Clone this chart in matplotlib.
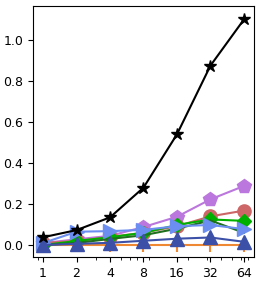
import matplotlib

matplotlib.use("Agg")
import matplotlib.pyplot as plt
from matplotlib.ticker import NullFormatter

# x: batch sizes, y: one list per method
sizes = [1, 2, 4, 8, 16, 32, 64]
star_vals = [0.038, 0.073, 0.135, 0.28, 0.54, 0.875, 1.10]
pent_vals = [0.01, 0.028, 0.045, 0.088, 0.138, 0.223, 0.288]
circ_vals = [0.01, 0.02, 0.04, 0.06, 0.092, 0.14, 0.168]
diam_vals = [0.0, 0.02, 0.038, 0.06, 0.098, 0.125, 0.118]
dkgr_vals = [0.0, 0.01, 0.03, 0.048, 0.08, 0.12, 0.06]
rtri_vals = [0.01, 0.065, 0.068, 0.074, 0.092, 0.098, 0.078]
utri_vals = [0.0, 0.006, 0.011, 0.021, 0.031, 0.037, 0.016]
tick_vals = [0.0, 0.0, 0.0, 0.0, 0.0, 0.0, 0.0]

fig = plt.figure(figsize=(2.61, 2.83), dpi=100)
ax = fig.add_axes([0.1264, 0.092, 0.8467, 0.887])

ax.plot(sizes, tick_vals, color="#ee8833", marker=3, ms=5, mew=1.5, lw=1.5)
ax.plot(sizes, pent_vals, color="#bb77dd", marker="p", ms=10, lw=1.5)
ax.plot(sizes, circ_vals, color="#cd6666", marker="o", ms=9.5, lw=1.5)
ax.plot(sizes, diam_vals, color="#00b000", marker="D", ms=7, lw=1.5)
ax.plot(sizes, dkgr_vals, color="#1f6f1f", lw=1.5)
ax.plot(sizes, rtri_vals, color="#6b8ef0", marker=">", ms=10.5, lw=1.5)
ax.plot(sizes, utri_vals, color="#3c50a8", marker="^", ms=10.5, lw=1.5)
ax.plot(sizes, star_vals, color="black", marker="*", ms=9, lw=1.5)

ax.set_xscale("log")
ax.set_xticks(sizes, [str(s) for s in sizes])
ax.xaxis.set_minor_formatter(NullFormatter())
ax.set_yticks([0.0, 0.2, 0.4, 0.6, 0.8, 1.0])
ax.set_ylim(-0.058, 1.166)
ax.tick_params(labelsize=9)

fig.savefig("out.png", dpi=100)
